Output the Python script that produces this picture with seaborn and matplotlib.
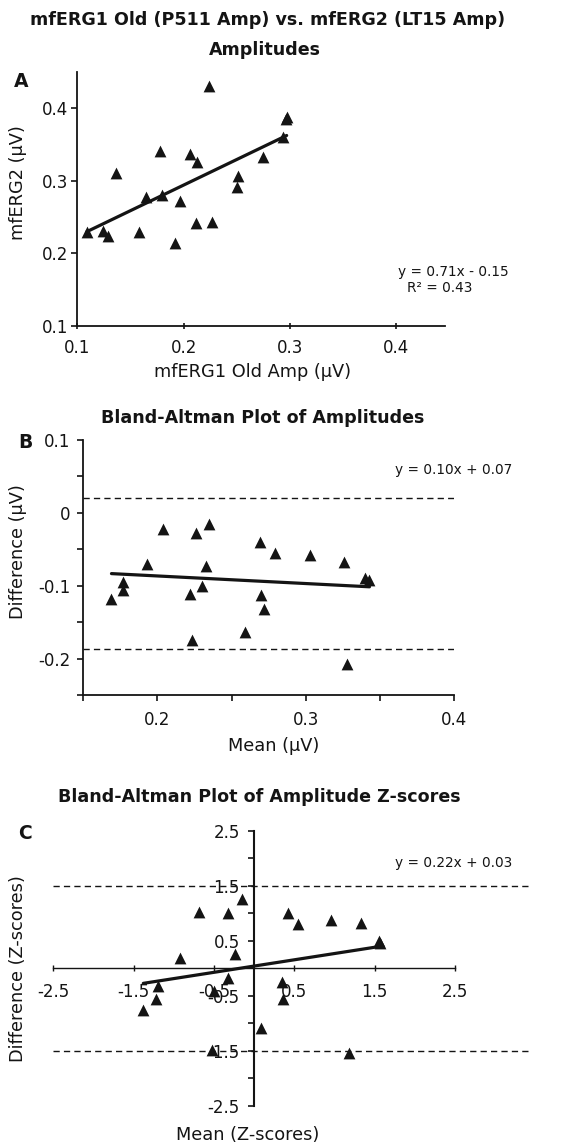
"""
mfERG amplitude agreement figure: scatter + two Bland-Altman panels
"""
import matplotlib
matplotlib.use("Agg")
import matplotlib.pyplot as plt
import seaborn as sns

sns.set_style("ticks")
plt.rcParams["font.family"] = ["DejaVu Sans"]
plt.rcParams["axes.unicode_minus"] = False

INK = "#141414"

# Panel A - mfERG1 old amp vs mfERG2 amp (uV)
amp_old = [0.109, 0.124, 0.129, 0.136, 0.158, 0.165, 0.178, 0.180, 0.192, 0.197, 0.206,
           0.213, 0.212, 0.224, 0.227, 0.250, 0.251, 0.275, 0.294, 0.296, 0.297]
amp_new = [0.229, 0.231, 0.224, 0.311, 0.229, 0.278, 0.341, 0.281, 0.214, 0.272, 0.337,
           0.326, 0.242, 0.431, 0.243, 0.291, 0.307, 0.333, 0.360, 0.385, 0.388]
a_xticks = [0.1, 0.2, 0.3, 0.4]
a_xlabels = ["0.1", "0.2", "0.3", "0.4"]
a_yticks = [0.1, 0.2, 0.3, 0.4]
a_ylabels = ["0.1", "0.2", "0.3", "0.4"]

# Panel B - Bland-Altman of amplitudes
ba_mean = [0.169, 0.177, 0.177, 0.193, 0.204, 0.222, 0.223, 0.226, 0.230, 0.233, 0.235,
           0.259, 0.269, 0.270, 0.272, 0.279, 0.303, 0.326, 0.328, 0.340, 0.343]
ba_diff = [-0.118, -0.095, -0.106, -0.070, -0.022, -0.112, -0.174, -0.028, -0.101, -0.073,
           -0.015, -0.163, -0.040, -0.113, -0.132, -0.055, -0.058, -0.067, -0.207, -0.090,
           -0.092]
ba_limits = [0.02, -0.187]
b_xticks = [0.15, 0.2, 0.25, 0.3, 0.35, 0.4]
b_xlabels = ["", "0.2", "", "0.3", "", "0.4"]
b_yticks = [0.1, 0.05, 0.0, -0.05, -0.1, -0.15, -0.2, -0.25]
b_ylabels = ["0.1", "", "0", "", "-0.1", "", "-0.2", ""]

# Panel C - Bland-Altman of amplitude z-scores
z_mean = [-1.38, -1.20, -1.22, -0.92, -0.69, -0.53, -0.50, -0.32, -0.32, -0.24, -0.15,
          0.09, 0.35, 0.36, 0.42, 0.55, 0.96, 1.33, 1.18, 1.55, 1.57]
z_diff = [-0.76, -0.33, -0.55, 0.18, 1.02, -1.49, -0.41, 1.01, -0.18, 0.27, 1.26,
          -1.09, -0.24, -0.55, 1.01, 0.80, 0.88, 0.82, -1.54, 0.50, 0.47]
z_limits = [1.5, -1.5]
c_xticks = [-2.5, -1.5, -0.5, 0.5, 1.5, 2.5]
c_xlabels = ["-2.5", "-1.5", "-0.5", "0.5", "1.5", "2.5"]
c_yticks = [2.5, 1.5, 0.5, -0.5, -1.5, -2.5]
c_ylabels = ["2.5", "1.5", "0.5", "-0.5", "-1.5", "-2.5"]
c_yminor = [2.0, 1.0, 0.0, -1.0, -2.0]

W, H = 567, 1147
TICK_FS = 12
LABEL_FS = 12.8
TITLE_FS = 12.6
EQ_FS = 9.8


def box(left, top, right, bottom):
    """pixel box -> figure fraction rect"""
    return [left / W, 1 - bottom / H, (right - left) / W, (bottom - top) / H]


def scatter_fit(ax, x, y):
    sns.regplot(x=x, y=y, ax=ax, ci=None, marker="^", color=INK,
                scatter_kws={"s": 72, "linewidths": 0, "alpha": 1, "zorder": 3},
                line_kws={"lw": 2.3, "zorder": 4})


def place_labels(ax, xlabel, ylabel, xpos, ypos):
    ax.set_xlabel(xlabel, fontsize=LABEL_FS, color=INK)
    ax.set_ylabel(ylabel, fontsize=LABEL_FS, color=INK)
    ax.xaxis.set_label_coords(*xpos)
    ax.yaxis.set_label_coords(*ypos)
    ax.xaxis.label.set_va("center")
    ax.yaxis.label.set_va("center")


def pixel_text(x, y, s, **kw):
    fig.text(x / W, 1 - y / H, s, color=INK, **kw)


fig = plt.figure(figsize=(W / 100, H / 100), dpi=100)

# ---------------- Panel A ----------------
axA = fig.add_axes(box(77.3, 72, 445, 325.7))
scatter_fit(axA, amp_old, amp_new)
axA.set_xlim(0.1, 0.446)
axA.set_ylim(0.1, 0.45)
axA.set_xticks(a_xticks, a_xlabels)
axA.set_yticks(a_yticks, a_ylabels)
axA.tick_params(axis="x", direction="inout", length=5, width=1.2, pad=7,
                labelsize=TICK_FS, colors=INK)
axA.tick_params(axis="y", direction="out", length=4, width=1.2, pad=2.5,
                labelsize=TICK_FS, colors=INK)
sns.despine(ax=axA)
for s in ["left", "bottom"]:
    axA.spines[s].set_linewidth(1.3)
    axA.spines[s].set_color(INK)
place_labels(axA, "mfERG1 Old Amp (\u00b5V)", "mfERG2 (\u00b5V)",
             (0.478, -0.181), (-0.1605, 0.5625))
pixel_text(398, 271.7, "y = 0.71x - 0.15", fontsize=EQ_FS, va="center", ha="left")
pixel_text(407, 288.3, "R\u00b2 = 0.43", fontsize=EQ_FS, va="center", ha="left")

# ---------------- Panel B ----------------
axB = fig.add_axes(box(83.3, 440, 454, 695))
for lim in ba_limits:
    axB.axhline(lim, color=INK, lw=1.0, ls=(0, (4.5, 3)), zorder=1)
scatter_fit(axB, ba_mean, ba_diff)
axB.set_xlim(0.15, 0.4)
axB.set_ylim(-0.25, 0.1)
axB.set_xticks(b_xticks, b_xlabels)
axB.set_yticks(b_yticks, b_ylabels)
axB.tick_params(axis="x", direction="out", length=4.3, width=1.2, pad=7,
                labelsize=TICK_FS, colors=INK)
axB.tick_params(axis="y", direction="out", length=4.5, width=1.2, pad=5,
                labelsize=TICK_FS, colors=INK)
sns.despine(ax=axB)
for s in ["left", "bottom"]:
    axB.spines[s].set_linewidth(1.3)
    axB.spines[s].set_color(INK)
place_labels(axB, "Mean (\u00b5V)", "Difference (\u00b5V)",
             (0.514, -0.2), (-0.1753, 0.562))
pixel_text(395, 470, "y = 0.10x + 0.07", fontsize=EQ_FS, va="center", ha="left")

# ---------------- Panel C ----------------
axC = fig.add_axes(box(53.3, 831, 530, 1105.7))
for lim in z_limits:
    axC.axhline(lim, color=INK, lw=1.0, ls=(0, (4.5, 3)), zorder=1)
scatter_fit(axC, z_mean, z_diff)
axC.set_xlim(-2.5, 3.433)
axC.set_ylim(-2.5, 2.5)
axC.spines["left"].set_position(("data", 0))
axC.spines["bottom"].set_position(("data", 0))
axC.spines["left"].set_bounds(-2.5, 2.5)
axC.spines["bottom"].set_bounds(-2.5, 2.5)
axC.spines["top"].set_visible(False)
axC.spines["right"].set_visible(False)
axC.spines["left"].set_linewidth(1.5)
axC.spines["bottom"].set_linewidth(1.0)
for s in ["left", "bottom"]:
    axC.spines[s].set_color(INK)
axC.set_xticks(c_xticks, c_xlabels)
axC.set_yticks(c_yticks, c_ylabels)
axC.set_yticks(c_yminor, minor=True)
axC.tick_params(axis="x", direction="inout", length=4.3, width=1.0, pad=8.5,
                labelsize=TICK_FS, colors=INK)
axC.tick_params(axis="y", which="both", direction="out", length=4.5, width=1.2,
                pad=5.8, labelsize=TICK_FS, colors=INK)
place_labels(axC, "Mean (Z-scores)", "Difference (Z-scores)",
             (0.4084, -0.1067), (-0.0734, 0.5))
pixel_text(395, 862.7, "y = 0.22x + 0.03", fontsize=EQ_FS, va="center", ha="left")

# ---------------- titles and panel letters ----------------
title_kw = dict(fontsize=TITLE_FS, fontweight="bold", ha="center", va="center")
pixel_text(268, 20, "mfERG1 Old (P511 Amp) vs. mfERG2 (LT15 Amp)", **title_kw)
pixel_text(265, 50, "Amplitudes", **title_kw)
pixel_text(262.5, 418.3, "Bland-Altman Plot of Amplitudes", **title_kw)
pixel_text(259.7, 796.7, "Bland-Altman Plot of Amplitude Z-scores", **title_kw)

letter_kw = dict(fontsize=13.5, fontweight="bold", ha="center", va="center")
pixel_text(21, 81.7, "A", **letter_kw)
pixel_text(25, 442.5, "B", **letter_kw)
pixel_text(24.7, 833.3, "C", **letter_kw)

fig.savefig("out.png", dpi=100)
